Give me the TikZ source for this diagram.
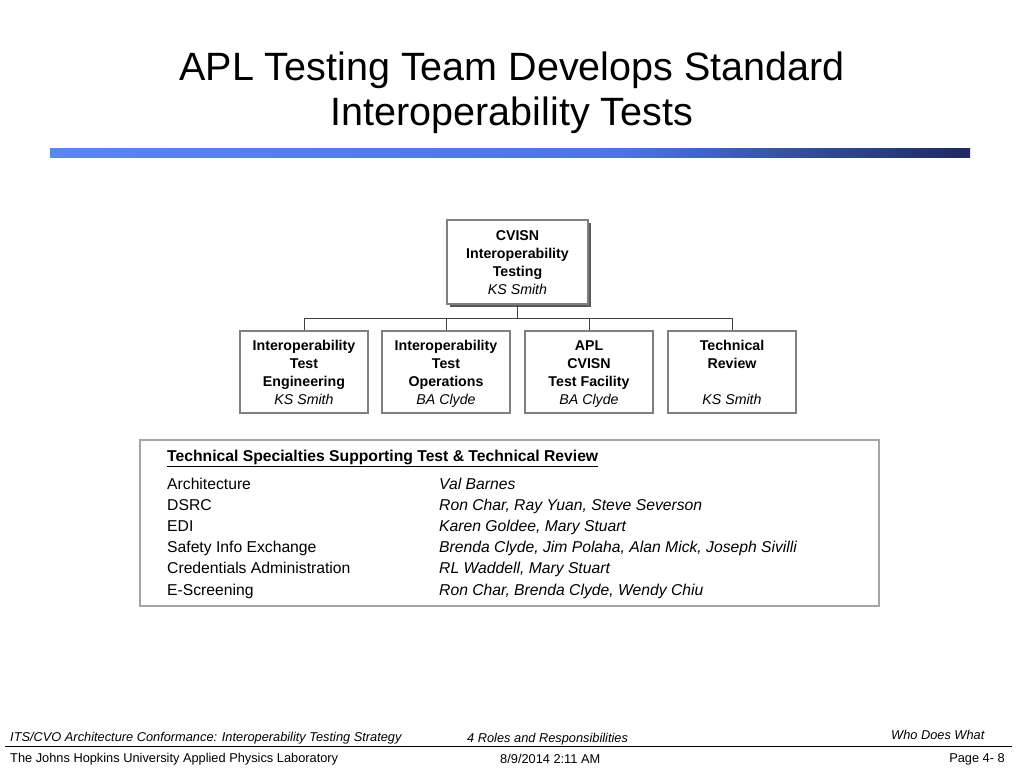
\documentclass[tikz,border=0pt]{standalone}
\usepackage{fontspec}
\setmainfont{Liberation Sans}
\usetikzlibrary{positioning,shadows}
\definecolor{ink}{RGB}{0,0,0}
\definecolor{boxline}{RGB}{128,128,128}
\definecolor{tableline}{RGB}{165,165,165}
\definecolor{barlight}{RGB}{90,135,235}
\definecolor{barmid}{RGB}{76,118,222}
\definecolor{bardark}{RGB}{30,42,96}
\pgfdeclarehorizontalshading{titlebar}{100bp}{color(0bp)=(barlight);
  color(25bp)=(barlight); color(56bp)=(barmid); color(75bp)=(bardark);
  color(100bp)=(bardark)}
\tikzset{
  headbox/.style={draw=boxline,line width=1.6pt,fill=white,
    minimum width=141pt,minimum height=84pt,inner sep=0pt,
    align=center,font=\fontsize{14.2}{18}\selectfont,
    text height=65pt,text depth=0pt,
    drop shadow={shadow xshift=3pt,shadow yshift=-3pt,fill=black!65,opacity=1}},
  unitbox/.style={draw=boxline,line width=1.6pt,fill=white,
    minimum width=128pt,minimum height=82pt,inner sep=0pt,
    align=center,font=\fontsize{14.2}{18}\selectfont,
    text height=64pt,text depth=0pt},
  wire/.style={draw=black!75,line width=0.9pt},
  tabletext/.style={anchor=base west,inner sep=0pt,font=\fontsize{15.7}{18}\selectfont},
  foottext/.style={inner sep=0pt,font=\fontsize{12.8}{14}\selectfont}
}

\begin{document}
\begin{tikzpicture}[x=1pt,y=-1pt]
  \useasboundingbox (0,0) rectangle (1024,768);

  % title and rule
  \node[align=center,font=\fontsize{39.5}{45}\selectfont] (title) at (512,93)
    {APL Testing Team Develops Standard\\Interoperability Tests};
  \shade[shading=titlebar] (50,148) rectangle (970,157);

  % org chart
  \node[headbox] (cvisn) at (517.5,262)
    {\textbf{CVISN}\\\textbf{Interoperability}\\\textbf{Testing}\\\textit{KS Smith}};
  \node[unitbox] (eng) at (304,372)
    {\textbf{Interoperability}\\\textbf{Test}\\\textbf{Engineering}\\\textit{KS Smith}\hspace{6pt}};
  \node[unitbox] (ops) at (446,372)
    {\textbf{Interoperability}\\\textbf{Test}\\\textbf{Operations}\\\textit{BA Clyde}};
  \node[unitbox] (lab) at (589,372)
    {\textbf{APL}\\\textbf{CVISN}\\\textbf{Test Facility}\\\textit{BA Clyde}};
  \node[unitbox] (rev) at (732,372)
    {\textbf{Technical}\\\textbf{Review}\\\mbox{}\\\textit{KS Smith}};

  \coordinate (bus) at (517.5,318);
  \draw[wire] (cvisn.south) -- (bus);
  \foreach \unit in {eng,ops,lab,rev}
    \draw[wire] (bus) -| (\unit.north);

  % specialties table
  \node[draw=tableline,line width=1.2pt,minimum width=739pt,minimum height=166pt,
    inner sep=0pt] (specs) at (509.5,523) {};
  \node[tabletext] (specshead) at (167,461)
    {\textbf{\underline{Technical Specialties Supporting Test \& Technical Review}}};
  \foreach \area/\who [count=\i] in {Architecture/Val Barnes,
      DSRC/{Ron Char, Ray Yuan, Steve Severson},
      EDI/{Karen Goldee, Mary Stuart},
      Safety Info Exchange/{Brenda Clyde, Jim Polaha, Alan Mick, Joseph Sivilli},
      Credentials Administration/{RL Waddell, Mary Stuart},
      E-Screening/{Ron Char, Brenda Clyde, Wendy Chiu}}{
    \node[tabletext] (area\i) at (167,{489+(\i-1)*21.2}) {\area};
    \node[tabletext] (who\i) at (439,{489+(\i-1)*21.2}) {\textit{\who}};
  }

  % footer
  \node[foottext,anchor=base west] (docname) at (10,741)
    {\textit{ITS/CVO Architecture Conformance: Interoperability Testing Strategy}};
  \node[foottext,anchor=base west] (chapter) at (467,742)
    {\textit{4 Roles and Responsibilities}};
  \node[foottext,anchor=base east] (topic) at (985,739) {\textit{Who Does What}};
  \coordinate (ruleL) at (5,746);
  \coordinate (ruleR) at (1012,746);
  \draw[line width=1pt] (ruleL) -- (ruleR);
  \node[foottext,anchor=base west] (jhu) at (10,762)
    {The Johns Hopkins University Applied Physics Laboratory};
  \node[foottext,anchor=base west] (date) at (500,763) {8/9/2014 2:11 AM};
  \node[foottext,anchor=base east] (page) at (1005,762) {Page 4- 8};
\end{tikzpicture}
\end{document}
